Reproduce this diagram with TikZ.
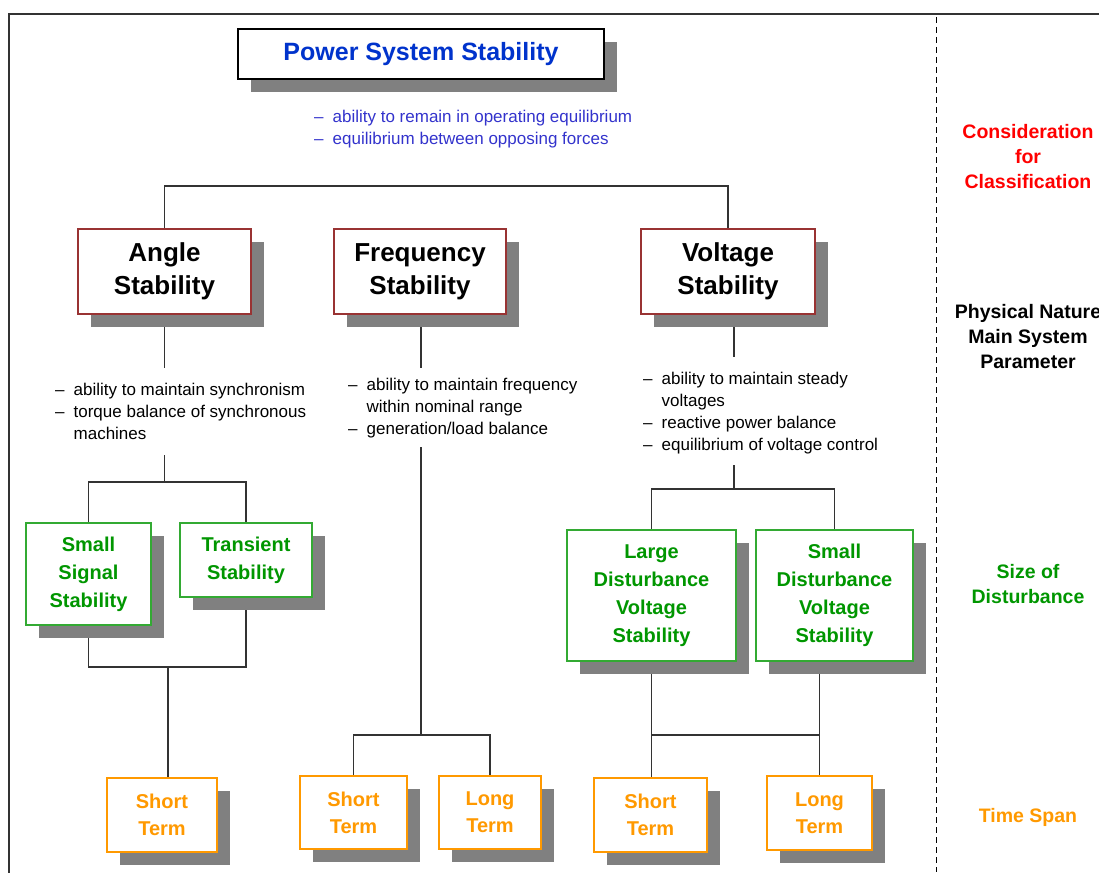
\documentclass[tikz,border=0pt]{standalone}
\usepackage{fontspec}
\setmainfont{Liberation Sans}
\usetikzlibrary{shadows,backgrounds}
\definecolor{titleblue}{RGB}{0,51,204}
\definecolor{noteblue}{RGB}{51,51,204}
\definecolor{boxred}{RGB}{153,51,51}
\definecolor{boxgreen}{RGB}{51,170,51}
\definecolor{textgreen}{RGB}{0,150,0}
\definecolor{spanorange}{RGB}{255,153,0}
\definecolor{shadegray}{RGB}{128,128,128}
\definecolor{linegray}{RGB}{51,51,51}
\tikzset{
  shadebox/.style={draw, fill=white, line width=1.3pt, inner sep=0pt, align=center,
    drop shadow={shadow xshift=13pt, shadow yshift=-13pt, fill=shadegray, opacity=1}},
  mainbox/.style={shadebox, draw=boxred, font=\fontsize{26}{33}\selectfont\bfseries},
  sizebox/.style={shadebox, draw=boxgreen, text=textgreen, font=\fontsize{20}{28}\selectfont\bfseries},
  spanbox/.style={shadebox, draw=spanorange, text=spanorange, font=\fontsize{20}{27}\selectfont\bfseries},
  notes/.style={inner sep=0pt, anchor=base west, font=\fontsize{17}{22}\selectfont},
  sidelabel/.style={align=center, inner sep=0pt, font=\fontsize{19.5}{25}\selectfont\bfseries},
  wire/.style={draw=linegray, line width=1.3pt}
}
\newcommand{\notelist}[1]{\begin{tabular}[t]{@{}l@{\hspace{9pt}}l@{}}#1\end{tabular}}
\begin{document}
\begin{tikzpicture}[x=1pt, y=-1pt]
\useasboundingbox (0,0) rectangle (1099,872);
\draw[line width=2.2pt, linegray] (1100,14) -- (9,14) -- (9,873);
\draw[line width=1pt, dash pattern=on 6pt off 4pt] (936,17) -- (936,872);

\node[shadebox, draw=black, text=titleblue, minimum width=366pt, minimum height=50pt,
  font=\fontsize{25}{30}\selectfont\bfseries] (pss) at (421,54) {Power System Stability};
\node[notes, text=noteblue] (pssnote) at (314,122) {\notelist{-- & ability to remain in operating equilibrium\\
  -- & equilibrium between opposing forces}};

\node[mainbox, minimum width=173pt, minimum height=85pt] (angle) at (164.5,271.5) {Angle\\Stability};
\node[mainbox, minimum width=172pt, minimum height=85pt] (freq) at (420,271.5) {Frequency\\Stability};
\node[mainbox, minimum width=174pt, minimum height=85pt] (volt) at (728,271.5) {Voltage\\Stability};

\node[notes] (anglenote) at (55,395) {\notelist{-- & ability to maintain synchronism\\
  -- & torque balance of synchronous\\ & machines}};
\node[notes] (freqnote) at (348,390) {\notelist{-- & ability to maintain frequency\\
  & within nominal range\\ -- & generation/load balance}};
\node[notes] (voltnote) at (643,384) {\notelist{-- & ability to maintain steady\\
  & voltages\\ -- & reactive power balance\\ -- & equilibrium of voltage control}};

\node[sizebox, minimum width=125pt, minimum height=102pt] (ssig) at (88.5,574) {Small\\Signal\\Stability};
\node[sizebox, minimum width=132pt, minimum height=74pt] (trans) at (246,560) {Transient\\Stability};
\node[sizebox, minimum width=169pt, minimum height=131pt] (ldv) at (651.5,595.5) {Large\\Disturbance\\Voltage\\Stability};
\node[sizebox, minimum width=157pt, minimum height=131pt] (sdv) at (834.5,595.5) {Small\\Disturbance\\Voltage\\Stability};

\node[spanbox, minimum width=110pt, minimum height=74pt] (ashort) at (162,815) {Short\\Term};
\node[spanbox, minimum width=107pt, minimum height=73pt] (fshort) at (353.5,812.5) {Short\\Term};
\node[spanbox, minimum width=102pt, minimum height=73pt] (flong) at (490,812.5) {Long\\Term};
\node[spanbox, minimum width=113pt, minimum height=74pt] (vshort) at (650.5,815) {Short\\Term};
\node[spanbox, minimum width=105pt, minimum height=74pt] (vlong) at (819.5,813) {Long\\Term};

\node[sidelabel, text=red] (consid) at (1028,157) {Consideration\\for\\Classification};
\node[sidelabel] (physical) at (1028,337) {Physical Nature\\Main System\\Parameter};
\node[sidelabel, text=textgreen] (sizelabel) at (1028,584.5) {Size of\\Disturbance};
\node[sidelabel, text=spanorange] (spanlabel) at (1028,817) {Time Span};

\coordinate (top) at (164.5,186);
\coordinate (a1) at (164.5,368);
\coordinate (a2) at (164.5,455);
\coordinate (a3) at (164.5,482);
\coordinate (a4) at (168,667);
\coordinate (f1) at (421,368);
\coordinate (f2) at (421,447);
\coordinate (f3) at (421,735);
\coordinate (v1) at (734,357);
\coordinate (v2) at (734,465);
\coordinate (v3) at (734,489);
\coordinate (v4) at (651.5,735);

\begin{scope}[on background layer]
\draw[wire] (angle.north) -- (top) -| (volt.north);
\draw[wire] (angle.south) -- (a1) (a2) -- (a3);
\draw[wire] (ssig.north) |- (a3) -| (trans.north);
\draw[wire] (ssig.south) |- (a4) -| (trans.south) (a4) -- (a4 |- ashort.north);
\draw[wire] (freq.south -| f1) -- (f1) (f2) -- (f3);
\draw[wire] (fshort.north) |- (f3) -| (flong.north);
\draw[wire] (v1 |- volt.south) -- (v1) (v2) -- (v3);
\draw[wire] (ldv.north) |- (v3) -| (sdv.north);
\draw[wire] (ldv.south) -- (ldv.south |- vshort.north);
\draw[wire] (vlong.north |- sdv.south) -- (vlong.north);
\draw[wire] (v4) -- (v4 -| vlong.north);
\end{scope}
\end{tikzpicture}
\end{document}
